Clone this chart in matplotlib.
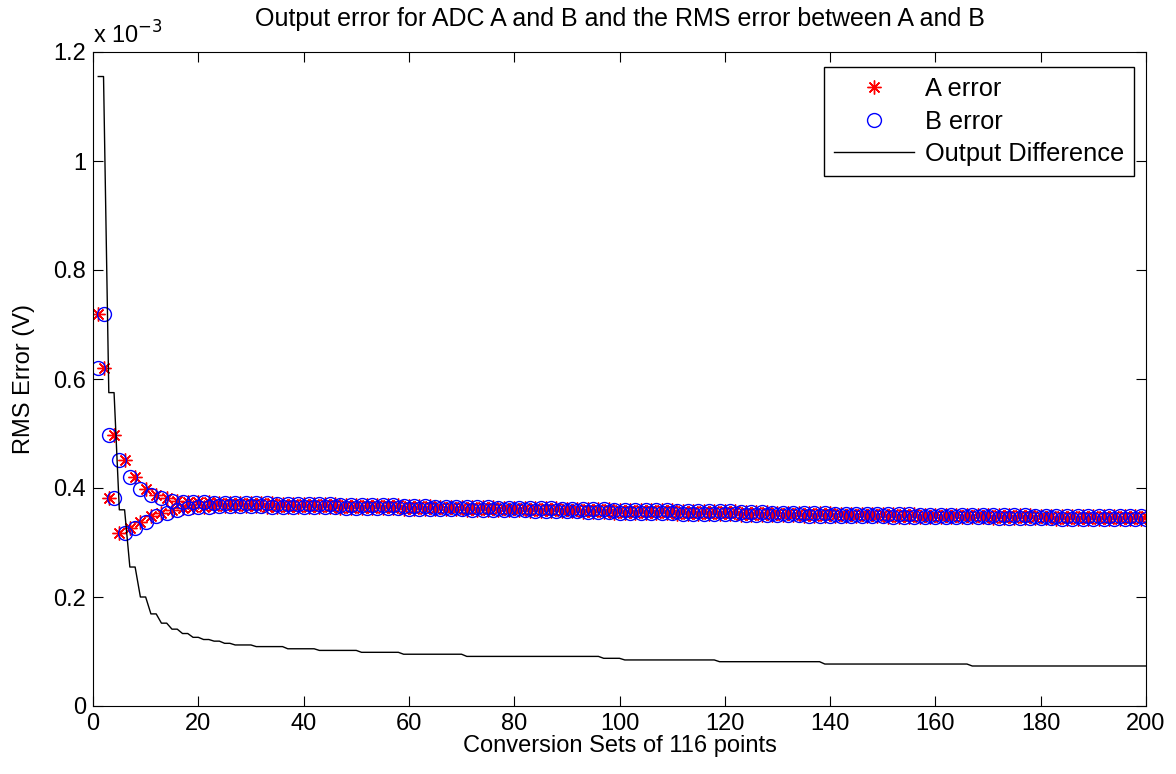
import numpy as np
import matplotlib
matplotlib.use('Agg')
import matplotlib.pyplot as plt
from matplotlib.ticker import FuncFormatter

# values in units of 1e-3 V, one value per pair of conversion sets (x = 2k-1, 2k)
# A at odd x / B at even x
a_odd = [0.719, 0.381, 0.317, 0.326, 0.338, 0.348, 0.355, 0.360, 0.363, 0.365,
         0.366, 0.367, 0.367, 0.367, 0.367, 0.367, 0.366, 0.366, 0.366, 0.366,
         0.365, 0.365, 0.365, 0.364, 0.364, 0.364, 0.363, 0.363, 0.363, 0.362,
         0.362, 0.362, 0.361, 0.361, 0.361, 0.360, 0.360, 0.360, 0.359, 0.359,
         0.359, 0.358, 0.358, 0.358, 0.357, 0.357, 0.356, 0.356, 0.356, 0.355,
         0.355, 0.355, 0.354, 0.354, 0.354, 0.353, 0.353, 0.353, 0.352, 0.352,
         0.352, 0.351, 0.351, 0.351, 0.350, 0.350, 0.350, 0.349, 0.349, 0.349,
         0.349, 0.348, 0.348, 0.348, 0.348, 0.347, 0.347, 0.347, 0.347, 0.347,
         0.346, 0.346, 0.346, 0.346, 0.346, 0.345, 0.345, 0.345, 0.345, 0.345,
         0.345, 0.344, 0.344, 0.344, 0.344, 0.344, 0.344, 0.344, 0.343, 0.343]
# A at even x / B at odd x
a_even = [0.620, 0.498, 0.451, 0.421, 0.399, 0.388, 0.381, 0.377, 0.375, 0.374,
          0.374, 0.373, 0.373, 0.373, 0.372, 0.372, 0.372, 0.371, 0.371, 0.371,
          0.370, 0.370, 0.370, 0.369, 0.369, 0.369, 0.368, 0.368, 0.368, 0.367,
          0.367, 0.367, 0.366, 0.366, 0.366, 0.365, 0.365, 0.365, 0.364, 0.364,
          0.364, 0.363, 0.363, 0.363, 0.362, 0.362, 0.361, 0.361, 0.361, 0.360,
          0.360, 0.360, 0.359, 0.359, 0.359, 0.358, 0.358, 0.358, 0.357, 0.357,
          0.357, 0.356, 0.356, 0.356, 0.355, 0.355, 0.355, 0.354, 0.354, 0.354,
          0.353, 0.353, 0.353, 0.353, 0.352, 0.352, 0.352, 0.352, 0.351, 0.351,
          0.351, 0.351, 0.351, 0.350, 0.350, 0.350, 0.350, 0.350, 0.350, 0.349,
          0.349, 0.349, 0.349, 0.349, 0.349, 0.349, 0.348, 0.348, 0.348, 0.348]
# output difference, held over each pair
diff = [1.155, 0.575, 0.360, 0.255, 0.200, 0.169, 0.152, 0.141, 0.133, 0.126,
        0.122, 0.119, 0.115, 0.112, 0.112, 0.109, 0.109, 0.109, 0.105, 0.105,
        0.105, 0.102, 0.102, 0.102, 0.102, 0.0985, 0.0985, 0.0985, 0.0985, 0.095,
        0.095, 0.095, 0.095, 0.095, 0.095, 0.091, 0.091, 0.091, 0.091, 0.091,
        0.091, 0.091, 0.091, 0.091, 0.091, 0.091, 0.091, 0.091, 0.0875, 0.0875,
        0.0845, 0.0845, 0.0845, 0.0845, 0.0845, 0.0845, 0.0845, 0.0845, 0.0845, 0.0813,
        0.0813, 0.0813, 0.0813, 0.0813, 0.0813, 0.0813, 0.0813, 0.0813, 0.0813, 0.077,
        0.077, 0.077, 0.077, 0.077, 0.077, 0.077, 0.077, 0.077, 0.077, 0.077,
        0.077, 0.077, 0.077, 0.0734, 0.0734, 0.0734, 0.0734, 0.0734, 0.0734, 0.0734,
        0.0734, 0.0734, 0.0734, 0.0734, 0.0734, 0.0734, 0.0734, 0.0734, 0.0734, 0.0734]

title = 'Output error for ADC A and B and the RMS error between A and B'
xlabel = 'Conversion Sets of 116 points'
ylabel = 'RMS Error (V)'

plt.rcParams['font.family'] = ['Liberation Sans', 'DejaVu Sans']
fs = 18
fs_lab = 17
fs_tick = 17

n = len(diff)
x = np.arange(1, 2 * n + 1)
A = np.empty(2 * n)
B = np.empty(2 * n)
A[0::2] = a_odd
A[1::2] = a_even
B[0::2] = a_even
B[1::2] = a_odd
D = np.repeat(diff, 2)

fig = plt.figure(figsize=(11.76, 7.74), dpi=100)
ax = fig.add_axes([93 / 1176, 68 / 774, 1053 / 1176, 654 / 774])

ax.plot(x, A, linestyle='none', marker=(8, 2, 0), ms=10, mew=1.0, color='red', label='A error')
ax.plot(x, B, linestyle='none', marker='o', ms=10, mew=1.0, mfc='none', mec='blue', label='B error')
ax.plot(x, D, color='black', lw=1.0, label='Output Difference')

ax.set_xlim(0, 200)
ax.set_ylim(0, 1.2)
ax.set_xticks(np.arange(0, 201, 20))
ax.set_yticks([0, 0.2, 0.4, 0.6, 0.8, 1.0, 1.2])
ax.yaxis.set_major_formatter(FuncFormatter(lambda v, p: '%g' % round(v, 3)))
ax.tick_params(direction='in', length=7.5, width=0.8, top=True, right=True,
               labelsize=fs_tick, colors='black')
ax.tick_params(axis='x', pad=5)
ax.tick_params(axis='y', pad=5)
for s in ax.spines.values():
    s.set_linewidth(0.8)

ax.set_title(title, fontsize=fs, pad=19)
ax.set_xlabel(xlabel, fontsize=fs_lab, labelpad=0)
ax.set_ylabel(ylabel, fontsize=fs_lab, labelpad=13)
ax.text(0.0, 1.005, r'x 10$^{-3}$', transform=ax.transAxes, fontsize=fs_tick,
        ha='left', va='bottom')

leg = ax.legend(loc='upper right', bbox_to_anchor=(0.9886, 0.9775), borderaxespad=0,
                fontsize=18.3, fancybox=False, framealpha=1, edgecolor='black',
                handlelength=3.15, handletextpad=0.4, labelspacing=0.34, borderpad=0.4)
leg.get_frame().set_linewidth(1.0)

fig.savefig('out.png', dpi=100)
